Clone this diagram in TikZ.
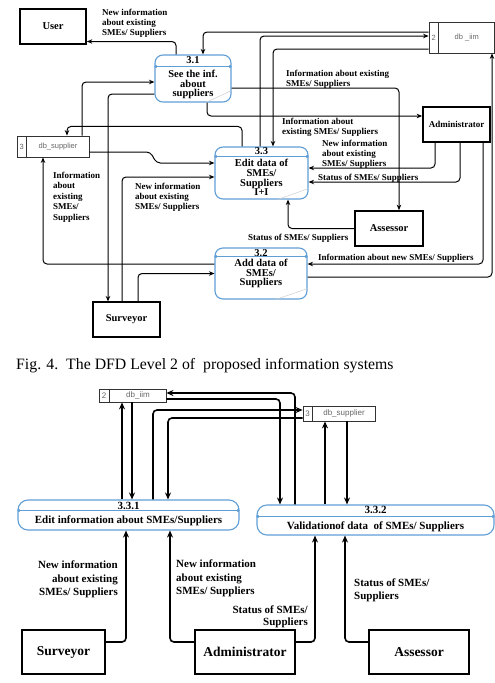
\documentclass[tikz,border=0pt]{standalone}
\usepackage{fontspec}
\setmainfont{Liberation Serif}
\setsansfont{Liberation Sans}
\usetikzlibrary{arrows.meta,positioning}
\definecolor{procblue}{RGB}{96,158,214}

\begin{document}
\begin{tikzpicture}[
    x=1pt, y=-1pt,
    >={Stealth[length=5.5pt,width=4.5pt]},
    entity/.style={rectangle,draw,line width=1.7pt,font=\fontsize{10.5}{12}\selectfont\bfseries},
    bigentity/.style={rectangle,draw,line width=1.3pt,minimum width=100pt,minimum height=44pt,font=\fontsize{13.5}{15}\selectfont\bfseries},
    proc/.style={rectangle,rounded corners=8pt,draw=procblue,line width=1.1pt},
    pnum/.style={inner sep=0pt,font=\fontsize{10.5}{11}\selectfont\bfseries},
    ptxt/.style={inner sep=0pt,align=center,font=\fontsize{10.5}{9.6}\selectfont\bfseries},
    psep/.style={draw=procblue,line width=.8pt,arrows={Circle[length=3pt]-Circle[length=3pt]}},
    grip/.style={draw=black!20,line width=.5pt},
    store/.style={rectangle,draw=black!80,line width=.8pt},
    stxt/.style={inner sep=0pt,text=black!60,font=\sffamily\fontsize{7.5}{8}\selectfont},
    flow/.style={draw,->,line width=1pt,rounded corners=4pt},
    bigflow/.style={draw,line width=1.6pt,rounded corners=4pt,-{Stealth[length=7pt,width=6pt]}},
    lbl/.style={inner sep=0pt,align=left,font=\fontsize{9}{10.3}\selectfont\bfseries},
    biglbl/.style={inner sep=0pt,font=\fontsize{11}{13.5}\selectfont\bfseries}
]
\useasboundingbox (0,0) rectangle (495,683);

\node[entity,minimum width=66pt,minimum height=35pt] (user) at (53,26.5) {User};
\node[entity,minimum width=67pt,minimum height=35pt,font=\fontsize{9}{10}\selectfont\bfseries] (admin) at (456.5,124.5) {Administrator};
\node[entity,minimum width=68pt,minimum height=35pt] (assess) at (389,228.5) {Assessor};
\node[entity,line width=1.1pt,minimum width=67pt,minimum height=35pt] (surv) at (126.5,319.5) {Surveyor};

\node[store,minimum width=65.5pt,minimum height=31pt] (iim) at (461.75,37.5) {};
\draw[store] ([xshift=10pt]iim.north west) -- ([xshift=10pt]iim.south west);
\node[stxt] (iimk) at ([xshift=5pt]iim.west) {2};
\node[stxt] (iimt) at ([xshift=5pt]iim.center) {db \_iim};

\node[store,minimum width=72pt,minimum height=21pt] (dbsup) at (53,146.5) {};
\draw[store] ([xshift=10pt]dbsup.north west) -- ([xshift=10pt]dbsup.south west);
\node[stxt] (dbsupk) at ([xshift=5pt]dbsup.west) {3};
\node[stxt] (dbsupt) at ([xshift=5pt]dbsup.center) {db\_supplier};

\node[proc,minimum width=76pt,minimum height=47pt] (p31) at (193,78.5) {};
\node[pnum] (p31n) at ([yshift=-6pt]p31.north) {3.1};
\node[ptxt] (p31t) at ([yshift=-6pt]p31.center) {See the inf.\\about\\suppliers};
\draw[psep] ([yshift=-12pt]p31.north west) -- ([yshift=-12pt]p31.north east);
\draw[grip] ([yshift=12pt]p31.south east) -- ([xshift=-26pt]p31.south east);

\node[proc,minimum width=93pt,minimum height=52pt] (p33) at (261.5,173) {};
\node[pnum] (p33n) at ([yshift=-5pt]p33.north) {3.3};
\node[ptxt] (p33t) at ([yshift=-4.5pt]p33.center) {Edit data of\\SMEs/\\Suppliers\\I+I};
\draw[psep] ([yshift=-10pt]p33.north west) -- ([yshift=-10pt]p33.north east);
\draw[grip] ([yshift=11pt]p33.south east) -- ([xshift=-31pt]p33.south east);

\node[proc,minimum width=92pt,minimum height=51pt] (p32) at (261,273.5) {};
\node[pnum] (p32n) at ([yshift=-6pt]p32.north) {3.2};
\node[ptxt] (p32t) at (p32.center) {Add data of\\SMEs/\\Suppliers};
\draw[psep] ([yshift=-9pt]p32.north west) -- ([yshift=-9pt]p32.north east);
\draw[grip] ([yshift=11pt]p32.south east) -- ([xshift=-32pt]p32.south east);

\draw[flow] ([xshift=-17pt]p31.north) |- ([yshift=-15pt]user.east);
\draw[flow] ([yshift=5.5pt]iim.west) -| ([xshift=10pt]p31.north);
\draw[flow] ([xshift=-1.5pt]p33.north) |- ([yshift=1.5pt]iim.west);
\draw[flow] ([yshift=-11.5pt]iim.west) -| ([xshift=11.5pt]p33.north);
\draw[flow] ([xshift=-19.5pt]p33.north) -- ++(0,-20) -| ([xshift=14pt]dbsup.north);
\draw[flow] ([xshift=29pt]dbsup.north) |- ([yshift=-3.5pt]p31.west);
\draw[flow] ([yshift=-15.5pt]p31.west) -| ([xshift=-18.5pt]surv.north);
\draw[flow] ([xshift=-4.5pt]surv.north) |- ([yshift=-4pt]p33.west);
\draw[flow] ([xshift=11.5pt]surv.north) |- (p32.west);
\draw[flow] ([yshift=-5.5pt]dbsup.east) -- ++(61,0) -- ++(6,11) -- ([yshift=10pt]p33.west);
\draw[flow] ([yshift=9.5pt]p32.west) -| ([xshift=-10pt]dbsup.south);
\draw[flow] ([xshift=14pt]p31.south) |- ([yshift=8.5pt]admin.west);
\draw[flow] ([yshift=-9.5pt]p31.east) -| ([xshift=10pt]assess.north);
\draw[flow] ([xshift=-21.5pt]admin.south) |- ([yshift=5pt]p33.east);
\draw[flow] ([xshift=3.5pt]admin.south) |- ([yshift=-9pt]p33.east);
\draw[flow] ([xshift=26.5pt]admin.south) |- ([yshift=9.5pt]p32.east);
\draw[flow] ([yshift=-3.5pt]p32.east) -| ([xshift=30.25pt]iim.south);
\draw[flow] (assess.west) -| ([xshift=26.5pt]p33.south);

\node[lbl,anchor=north west] (l1) at (102,8.5) {New information\\about existing\\SMEs/ Suppliers};
\node[lbl,anchor=north west] (l2) at (286,69.5) {Information about existing\\SMEs/ Suppliers};
\node[lbl,anchor=north west] (l3) at (282,117.5) {Information about\\existing SMEs/ Suppliers};
\node[lbl,anchor=north west] (l4) at (322,139.5) {New information\\about existing\\SMEs/ Suppliers};
\node[lbl,anchor=north west] (l5) at (318,173.5) {Status of SMEs/ Suppliers};
\node[lbl,anchor=north west] (l6) at (248,233.5) {Status of SMEs/ Suppliers};
\node[lbl,anchor=north west] (l7) at (318,253.5) {Information about new SMEs/ Suppliers};
\node[lbl,anchor=north west,font=\fontsize{9}{10.6}\selectfont\bfseries] (l8) at (53,171.5) {Information\\about\\existing\\SMEs/\\Suppliers};
\node[lbl,anchor=north west] (l9) at (135,182.5) {New information\\about existing\\SMEs/ Suppliers};

\node[anchor=west,inner sep=0pt,font=\fontsize{15.8}{17}\selectfont] (cap) at (16,366) {Fig. 4.\ \ The DFD Level 2 of\ \ proposed information systems};

\node[store,minimum width=67pt,minimum height=13pt] (iim2) at (132.5,395.5) {};
\draw[store] ([xshift=11pt]iim2.north west) -- ([xshift=11pt]iim2.south west);
\node[stxt,font=\sffamily\fontsize{8}{8}\selectfont] (iim2k) at ([xshift=5.5pt]iim2.west) {2};
\node[stxt,font=\sffamily\fontsize{8}{8}\selectfont] (iim2t) at ([xshift=5.5pt]iim2.center) {db\_iim};

\node[store,minimum width=72pt,minimum height=15pt] (sup2) at (339,413.5) {};
\draw[store] ([xshift=10pt]sup2.north west) -- ([xshift=10pt]sup2.south west);
\node[stxt,font=\sffamily\fontsize{8}{8}\selectfont] (sup2k) at ([xshift=5pt]sup2.west) {3};
\node[stxt,font=\sffamily\fontsize{8}{8}\selectfont] (sup2t) at ([xshift=5pt]sup2.center) {db\_supplier};

\node[proc,rounded corners=10pt,minimum width=221pt,minimum height=30pt] (p331) at (128.5,515) {};
\node[pnum,font=\fontsize{11}{12}\selectfont\bfseries] (p331n) at ([yshift=-6pt]p331.north) {3.3.1};
\node[ptxt,font=\fontsize{11}{12}\selectfont\bfseries] (p331t) at ([yshift=-6pt]p331.center) {Edit information about SMEs/Suppliers};
\draw[psep] ([yshift=-11pt]p331.north west) -- ([yshift=-11pt]p331.north east);

\node[proc,rounded corners=10pt,minimum width=237pt,minimum height=30pt] (p332) at (375.5,520) {};
\node[pnum,font=\fontsize{11}{12}\selectfont\bfseries] (p332n) at ([yshift=-5pt]p332.north) {3.3.2};
\node[ptxt,font=\fontsize{11}{12}\selectfont\bfseries] (p332t) at ([yshift=-7pt]p332.center) {Validationof data\ \ of SMEs/ Suppliers};
\draw[psep] ([yshift=-12pt]p332.north west) -- ([yshift=-12pt]p332.north east);

\node[bigentity,minimum width=83pt] (surv2) at (63.5,652) {Surveyor};
\node[bigentity] (admin2) at (245,652) {Administrator};
\node[bigentity] (assess2) at (419,652) {Assessor};

\draw[bigflow] ([xshift=-6.5pt]p331.north) -- ([xshift=-10.5pt]iim2.south);
\draw[bigflow] ([xshift=-0.5pt]iim2.south) -- ([xshift=3.5pt]p331.north);
\draw[bigflow] ([xshift=24.5pt]p331.north) |- ([yshift=3.5pt]sup2.west);
\draw[bigflow] ([yshift=-4.5pt]sup2.west) -| ([xshift=39.5pt]p331.north);
\draw[bigflow] ([yshift=-3.5pt]iim2.east) -| ([xshift=-95.5pt]p332.north);
\draw[bigflow] ([xshift=-80.5pt]p332.north) |- ([yshift=2.5pt]iim2.east);
\draw[bigflow] ([xshift=-50.5pt]p332.north) -- ([xshift=-14pt]sup2.south);
\draw[bigflow] ([xshift=8pt]sup2.south) -- ([xshift=-28.5pt]p332.north);

\draw[bigflow] ([yshift=10pt]surv2.east) -| ([xshift=-2.5pt]p331.south);
\draw[bigflow] ([yshift=10pt]admin2.west) -| ([xshift=41.5pt]p331.south);
\draw[bigflow] ([yshift=10pt]admin2.east) -| ([xshift=-60.5pt]p332.south);
\draw[bigflow] ([yshift=10pt]assess2.west) -| ([xshift=-30.5pt]p332.south);

\node[biglbl,anchor=north east,align=right] (b1) at (118,561) {New information\\about existing\\SMEs/ Suppliers};
\node[biglbl,anchor=north west,align=left] (b2) at (176,560) {New information\\about existing\\SMEs/ Suppliers};
\node[biglbl,anchor=north east,align=right,font=\fontsize{11}{12}\selectfont\bfseries] (b3) at (308,606) {Status of SMEs/\\Suppliers};
\node[biglbl,anchor=north west,align=left,font=\fontsize{11}{13}\selectfont\bfseries] (b4) at (354,579) {Status of SMEs/\\Suppliers};
\end{tikzpicture}
\end{document}
